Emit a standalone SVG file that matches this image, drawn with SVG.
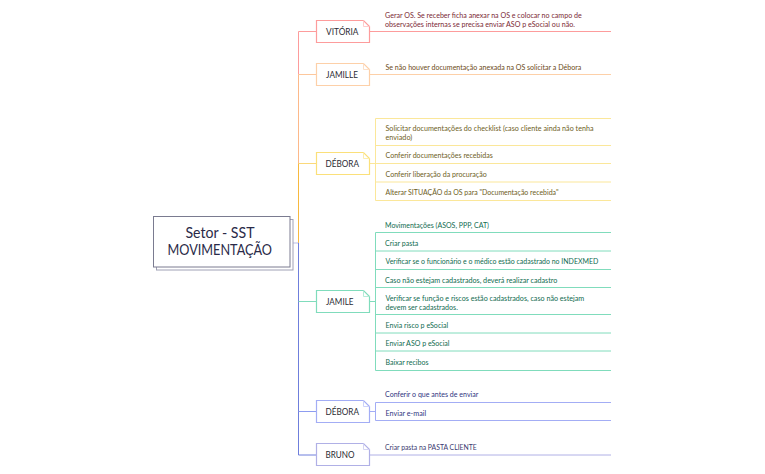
<svg xmlns="http://www.w3.org/2000/svg" width="765" height="474" viewBox="0 0 765 474">
<style>
text{font-family:"Lato","Open Sans",sans-serif}
.l{fill:none;stroke-width:1}
.b{fill:#fff;stroke-width:1.2}
.n{font-size:9.500px;fill:#2b2b33}
.t{font-size:7.300px}
.r{fill:#7b2a35}.o{fill:#6b4a20}.y{fill:#6e5e1e}.g{fill:#0f6b4f}.p{fill:#2f3580}.q{fill:#3a3a70}
</style>
<rect width="765" height="474" fill="#fff"/>
<g id="connectors">
<path class="l" stroke="#fd9c9c" d="M316 31.500H298.500V74.500"/>
<path class="l" stroke="#fdc79c" d="M316 74.500H298.500"/>
<path class="l" stroke="#fdb98a" d="M298.500 74.500V163.500"/>
<path class="l" stroke="#fbd97a" d="M316 163.500H298.500"/>
<path class="l" stroke="#f8b93f" d="M298.500 163.500V243"/>
<path class="l" stroke="#b9bde8" d="M293 243H298.500"/>
<path class="l" stroke="#6f7fdc" d="M298.500 243V455H316"/>
<path class="l" stroke="#80dcbc" d="M298.500 301.500H316"/>
<path class="l" stroke="#8d9cf0" d="M298.500 411.500H316"/>
<path class="l" stroke="#fd9c9c" d="M370 31.500H611"/>
<path class="l" stroke="#fdd0a8" d="M370 74.500H611"/>
<path class="l" stroke="#fbe79a" d="M370 163.500H375.500M611 118.500H375.500V200.500H611M375.500 145.500H611M375.500 163.500H611M375.500 182H611"/>
<path class="l" stroke="#80dcbc" d="M370 301.500H375.500M611 232.500H375.500V370.500H611M375.500 251H611M375.500 269.500H611M375.500 287.500H611M375.500 314.500H611M375.500 333H611M375.500 351H611"/>
<path class="l" stroke="#a3adf5" d="M370 411.500H375.500M611 402.500H375.500V420.500H611"/>
<path class="l" stroke="#b0b0e6" d="M370 455H611"/>
</g>
<g id="root">
<rect x="156.500" y="219.500" width="136.500" height="50.500" fill="#fff" stroke="#a0a1b5"/>
<rect x="153.500" y="216.500" width="136.500" height="50.500" fill="#fff" stroke="#7a7b90"/>
<text x="185.500" y="237.500" font-size="14.500" fill="#2a2a48" textLength="69" lengthAdjust="spacingAndGlyphs">Setor - SST</text>
<text x="167.500" y="255" font-size="14.500" fill="#2a2a48" textLength="104.500" lengthAdjust="spacingAndGlyphs">MOVIMENTAÇÃO</text>
</g>
<g id="vitoria">
<path class="b" stroke="#fd9c9c" d="M316.500 20.500H363.500L369.500 26.500V42.500H316.500Z"/>
<path class="l" stroke="#fcc" d="M363.500 20.500V26.500H369.500"/>
<text class="n" x="326" y="34.500" textLength="32.500" lengthAdjust="spacingAndGlyphs">VITÓRIA</text>
<text class="t r" x="385" y="17.500" textLength="196.700" lengthAdjust="spacingAndGlyphs">Gerar OS. Se receber ficha anexar na OS e colocar no campo de</text>
<text class="t r" x="385" y="26.500" textLength="190" lengthAdjust="spacingAndGlyphs">observações internas se precisa enviar  ASO p eSocial ou não.</text>
</g>
<g id="jamille">
<path class="b" stroke="#fdd0a8" d="M316.500 63.500H363.500L369.500 69.500V85.500H316.500Z"/>
<path class="l" stroke="#fde0c8" d="M363.500 63.500V69.500H369.500"/>
<text class="n" x="326" y="77.500" textLength="32" lengthAdjust="spacingAndGlyphs">JAMILLE</text>
<text class="t o" x="385.500" y="69.500" textLength="195.700" lengthAdjust="spacingAndGlyphs">Se não houver documentação anexada na OS solicitar a Débora</text>
</g>
<g id="debora1">
<path class="b" stroke="#fbe07a" d="M316.500 152.500H363.500L369.500 158.500V174.500H316.500Z"/>
<path class="l" stroke="#fdeeb0" d="M363.500 152.500V158.500H369.500"/>
<text class="n" x="325.500" y="166.500" textLength="33.500" lengthAdjust="spacingAndGlyphs">DÉBORA</text>
<text class="t y" x="385.500" y="131" textLength="208" lengthAdjust="spacingAndGlyphs">Solicitar documentações do checklist (caso cliente ainda não tenha</text>
<text class="t y" x="385.500" y="140" textLength="26.700" lengthAdjust="spacingAndGlyphs">enviado)</text>
<text class="t y" x="385.500" y="158" textLength="107.300" lengthAdjust="spacingAndGlyphs">Conferir documentações recebidas</text>
<text class="t y" x="385.500" y="176.500" textLength="101.300" lengthAdjust="spacingAndGlyphs">Conferir liberação da procuração</text>
<text class="t y" x="385.500" y="195" textLength="173" lengthAdjust="spacingAndGlyphs">Alterar SITUAÇÃO da OS para "Documentação recebida"</text>
</g>
<g id="jamile">
<path class="b" stroke="#80dcbc" d="M316.500 290.500H363.500L369.500 296.500V312.500H316.500Z"/>
<path class="l" stroke="#b5ecd8" d="M363.500 290.500V296.500H369.500"/>
<text class="n" x="326" y="304.500" textLength="27.500" lengthAdjust="spacingAndGlyphs">JAMILE</text>
<text class="t g" x="385" y="227.500" textLength="104" lengthAdjust="spacingAndGlyphs">Movimentações (ASOS, PPP, CAT)</text>
<text class="t g" x="385" y="245.500" textLength="33.300" lengthAdjust="spacingAndGlyphs">Criar pasta</text>
<text class="t g" x="385.500" y="264" textLength="212.700" lengthAdjust="spacingAndGlyphs">Verificar se o funcionário e o médico estão cadastrado no INDEXMED</text>
<text class="t g" x="385" y="282.500" textLength="172.300" lengthAdjust="spacingAndGlyphs">Caso não estejam cadastrados, deverá realizar cadastro</text>
<text class="t g" x="385.500" y="301" textLength="198.700" lengthAdjust="spacingAndGlyphs">Verificar se função e riscos estão cadastrados, caso não estejam</text>
<text class="t g" x="385.500" y="310" textLength="72.300" lengthAdjust="spacingAndGlyphs">devem ser cadastrados.</text>
<text class="t g" x="385.500" y="328" textLength="62.700" lengthAdjust="spacingAndGlyphs">Envia risco p eSocial</text>
<text class="t g" x="385.500" y="346" textLength="64" lengthAdjust="spacingAndGlyphs">Enviar ASO p eSocial</text>
<text class="t g" x="385.500" y="364.500" textLength="43" lengthAdjust="spacingAndGlyphs">Baixar recibos</text>
</g>
<g id="debora2">
<path class="b" stroke="#a3adf5" d="M316.500 400.500H363.500L369.500 406.500V422.500H316.500Z"/>
<path class="l" stroke="#ccd2fa" d="M363.500 400.500V406.500H369.500"/>
<text class="n" x="325.500" y="414.500" textLength="33.500" lengthAdjust="spacingAndGlyphs">DÉBORA</text>
<text class="t p" x="385" y="397" textLength="93.300" lengthAdjust="spacingAndGlyphs">Conferir o que antes de enviar</text>
<text class="t p" x="385.500" y="415.500" textLength="40.700" lengthAdjust="spacingAndGlyphs">Enviar e-mail</text>
</g>
<g id="bruno">
<path class="b" stroke="#b0b0e6" d="M316.500 443.500H363.500L369.500 449.500V465.500H316.500Z"/>
<path class="l" stroke="#d5d5f3" d="M363.500 443.500V449.500H369.500"/>
<text class="n" x="325.500" y="458" textLength="29" lengthAdjust="spacingAndGlyphs">BRUNO</text>
<text class="t q" x="385" y="450" textLength="91.700" lengthAdjust="spacingAndGlyphs">Criar pasta na PASTA CLIENTE</text>
</g>
</svg>
